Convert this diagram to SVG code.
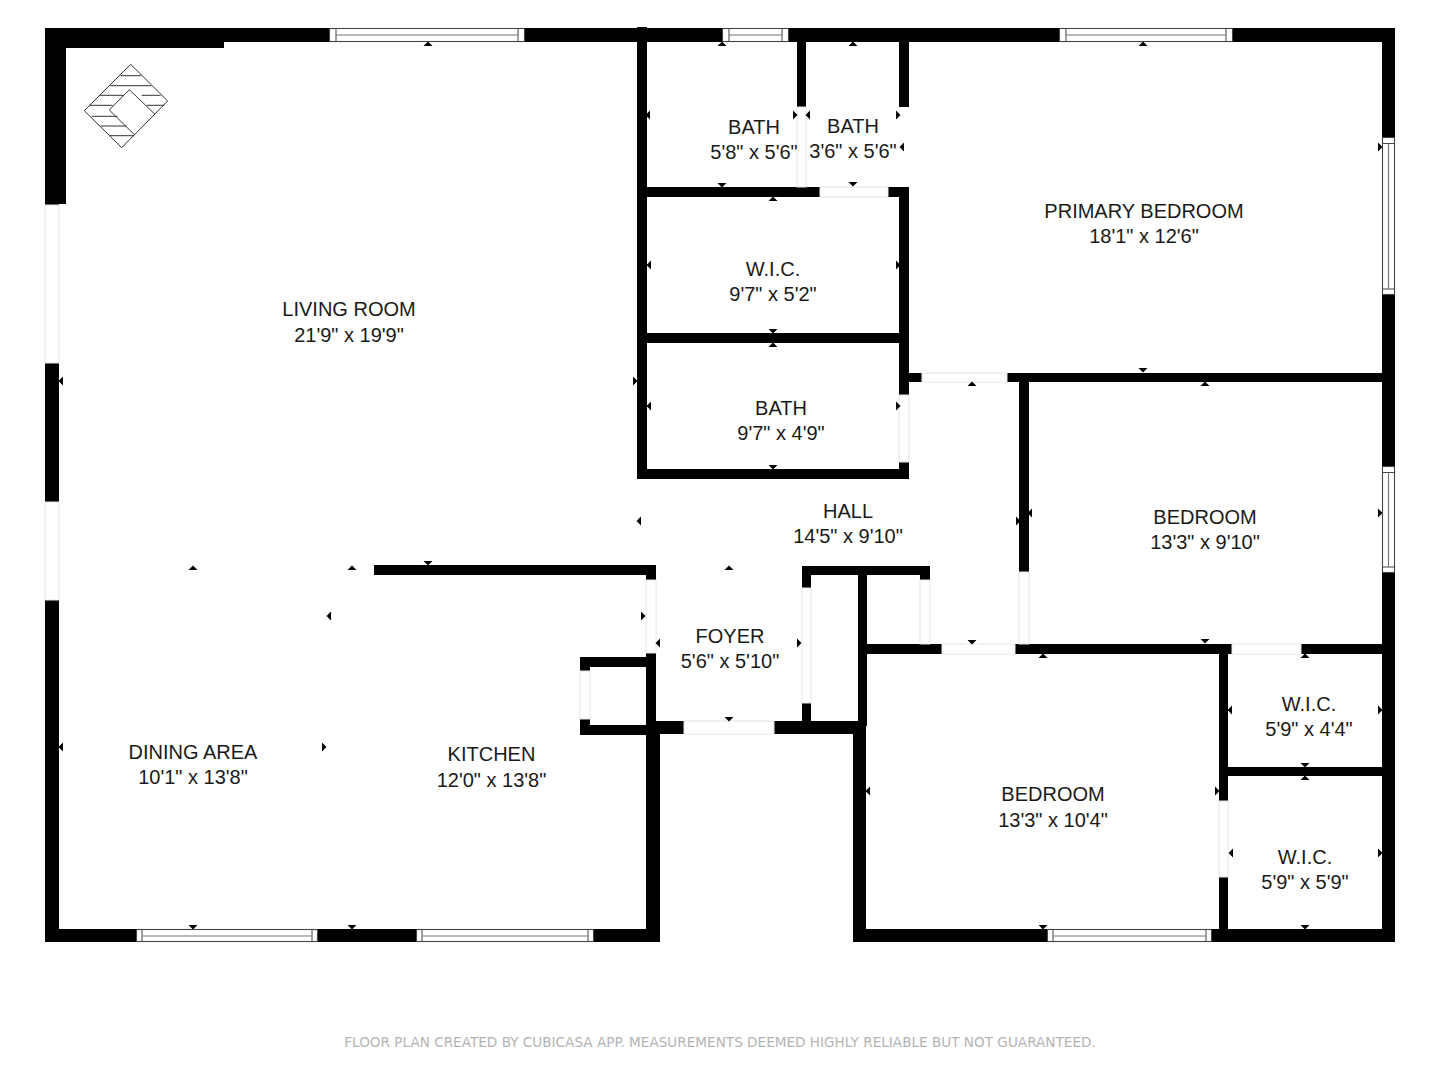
<svg xmlns="http://www.w3.org/2000/svg" width="1440" height="1080" viewBox="0 0 1440 1080">
<style>
.w{fill:#000}
.d{fill:#fff;stroke:#e6e6e6;stroke-width:1}
.f{fill:#fff;stroke:#444;stroke-width:1.1}
.m{stroke:#777;stroke-width:1.2;fill:none}
.fp{fill:none;stroke:#333;stroke-width:1}
.fl{stroke:#444;stroke-width:1;fill:none}
text{font-family:"Liberation Sans",Arial,sans-serif;font-size:20px;fill:#1a1a1a;text-anchor:middle}
.note{font-family:"DejaVu Sans",Verdana,sans-serif;font-size:13.6px;fill:#b4b4b4}
</style>
<defs>
<path id="u" d="M-4.5 2L0 -2.5L4.5 2Z" fill="#000"/>
<path id="n" d="M-4.5 -2L0 2.5L4.5 -2Z" fill="#000"/>
<path id="l" d="M2 -4.5L-2.5 0L2 4.5Z" fill="#000"/>
<path id="r" d="M-2 -4.5L2.5 0L-2 4.5Z" fill="#000"/>
</defs>
<rect width="1440" height="1080" fill="#fff"/>
<g id="walls">
<rect class="w" x="45" y="28" width="284" height="14"/>
<rect class="w" x="45" y="28" width="179" height="20"/>
<rect class="w" x="45" y="28" width="21" height="176"/>
<rect class="w" x="45" y="28" width="14" height="177"/>
<rect class="w" x="45" y="363" width="14" height="139"/>
<rect class="w" x="45" y="600" width="14" height="342"/>
<rect class="w" x="45" y="929" width="91" height="13"/>
<rect class="w" x="318" y="929" width="98" height="13"/>
<rect class="w" x="594" y="929" width="66" height="13"/>
<rect class="w" x="525" y="28" width="197" height="14"/>
<rect class="w" x="789" y="28" width="270" height="14"/>
<rect class="w" x="1233" y="28" width="162" height="14"/>
<rect class="w" x="1382" y="28" width="13" height="109"/>
<rect class="w" x="1382" y="295" width="13" height="171"/>
<rect class="w" x="1382" y="573" width="13" height="369"/>
<rect class="w" x="637" y="27" width="10" height="452"/>
<rect class="w" x="637" y="469" width="272" height="10"/>
<rect class="w" x="899" y="462" width="10" height="17"/>
<rect class="w" x="899" y="372" width="10" height="23"/>
<rect class="w" x="899" y="187" width="10" height="185"/>
<rect class="w" x="899" y="42" width="10" height="65"/>
<rect class="w" x="797" y="42" width="9" height="65"/>
<rect class="w" x="647" y="187" width="173" height="10"/>
<rect class="w" x="888" y="187" width="21" height="10"/>
<rect class="w" x="647" y="333" width="252" height="10"/>
<rect class="w" x="909" y="373" width="13" height="9"/>
<rect class="w" x="1007" y="373" width="375" height="9"/>
<rect class="w" x="1019" y="373" width="10" height="199"/>
<rect class="w" x="858" y="644" width="84" height="10"/>
<rect class="w" x="1015" y="644" width="217" height="10"/>
<rect class="w" x="1301" y="644" width="81" height="10"/>
<rect class="w" x="1219" y="644" width="9" height="157"/>
<rect class="w" x="1219" y="877" width="9" height="52"/>
<rect class="w" x="1228" y="767" width="154" height="9"/>
<rect class="w" x="853" y="929" width="194" height="13"/>
<rect class="w" x="1212" y="929" width="183" height="13"/>
<rect class="w" x="853" y="734" width="13" height="208"/>
<rect class="w" x="858" y="566" width="9" height="160"/>
<rect class="w" x="802" y="566" width="128" height="9"/>
<rect class="w" x="802" y="566" width="9" height="22"/>
<rect class="w" x="802" y="703" width="9" height="20"/>
<rect class="w" x="920" y="566" width="10" height="14"/>
<rect class="w" x="774" y="721" width="92" height="13"/>
<rect class="w" x="374" y="565" width="282" height="10"/>
<rect class="w" x="646" y="565" width="10" height="15"/>
<rect class="w" x="646" y="653" width="10" height="82"/>
<rect class="w" x="646" y="734" width="14" height="208"/>
<rect class="w" x="656" y="721" width="28" height="13"/>
<rect class="w" x="580" y="657" width="66" height="10"/>
<rect class="w" x="580" y="657" width="10" height="14"/>
<rect class="w" x="580" y="719" width="10" height="16"/>
<rect class="w" x="580" y="725" width="66" height="10"/>
</g>
<g id="doors">
<rect class="d" x="45" y="205" width="14" height="158"/>
<rect class="d" x="45" y="502" width="14" height="98"/>
<rect class="d" x="797" y="107" width="9" height="80"/>
<rect class="d" x="820" y="187" width="68" height="10"/>
<rect class="d" x="899" y="395" width="10" height="67"/>
<rect class="d" x="922" y="373" width="85" height="9"/>
<rect class="d" x="1019" y="572" width="10" height="72"/>
<rect class="d" x="942" y="644" width="73" height="10"/>
<rect class="d" x="1232" y="644" width="69" height="10"/>
<rect class="d" x="1219" y="801" width="9" height="76"/>
<rect class="d" x="646" y="580" width="10" height="73"/>
<rect class="d" x="802" y="588" width="9" height="115"/>
<rect class="d" x="920" y="580" width="10" height="64"/>
<rect class="d" x="684" y="721" width="90" height="13"/>
<rect class="d" x="580" y="671" width="10" height="48"/>
</g>
<g id="windows">
<g><rect class="f" x="329.500" y="28.500" width="195" height="13"/><path class="fl" d="M336 28.500V41.500M518 28.500V41.500"/><path class="m" d="M336 35H518"/></g>
<g><rect class="f" x="722.500" y="28.500" width="66" height="13"/><path class="fl" d="M729 28.500V41.500M782 28.500V41.500"/><path class="m" d="M729 35H782"/></g>
<g><rect class="f" x="1059.500" y="28.500" width="173" height="13"/><path class="fl" d="M1066 28.500V41.500M1226 28.500V41.500"/><path class="m" d="M1066 35H1226"/></g>
<g><rect class="f" x="1382.500" y="137.500" width="12" height="157"/><path class="fl" d="M1382.500 143.500H1394.500M1382.500 289H1394.500"/><path class="m" d="M1388.500 143.500V289"/></g>
<g><rect class="f" x="1382.500" y="466.500" width="12" height="106"/><path class="fl" d="M1382.500 472.500H1394.500M1382.500 567H1394.500"/><path class="m" d="M1388.500 472.500V567"/></g>
<g><rect class="f" x="136.500" y="929.500" width="181" height="12"/><path class="fl" d="M142 929.500V941.500M312 929.500V941.500"/><path class="m" d="M142 936H312"/></g>
<g><rect class="f" x="416.500" y="929.500" width="177" height="12"/><path class="fl" d="M422 929.500V941.500M588 929.500V941.500"/><path class="m" d="M422 936H588"/></g>
<g><rect class="f" x="1047.500" y="929.500" width="164" height="12"/><path class="fl" d="M1053 929.500V941.500M1206 929.500V941.500"/><path class="m" d="M1053 936H1206"/></g>
</g>
<g id="fireplace">
<path class="fp" d="M130.700 64.300L167.700 101L121.700 147.700L84.300 110.700Z"/>
<path class="fp" d="M155 114.300L129.300 89.700L109.300 110L134.700 135"/>
<path class="fp" d="M120.700 75.700H141M110.300 85.700H151M100 95.300H123.300M141.700 95.300H160.700M89.300 105.300H112.700M146.700 105.300H164.300M91.700 116.300H117.300M100.700 126H126.700M110 135.700H134"/>
</g>
<g id="marks">
<use href="#u" x="428" y="44"/><use href="#u" x="722" y="44"/><use href="#u" x="853" y="44"/><use href="#u" x="1143" y="44"/>
<use href="#l" x="648" y="115"/><use href="#r" x="795" y="115"/><use href="#l" x="808" y="115"/><use href="#r" x="898" y="115"/><use href="#l" x="902" y="147"/><use href="#n" x="722" y="185"/><use href="#u" x="773" y="199"/><use href="#n" x="853" y="184"/>
<use href="#l" x="649" y="265"/><use href="#r" x="898" y="265"/><use href="#n" x="773" y="331"/><use href="#u" x="773" y="345"/>
<use href="#l" x="649" y="406"/><use href="#r" x="898" y="406"/><use href="#n" x="773" y="467"/>
<use href="#u" x="972" y="384"/><use href="#l" x="639" y="521"/><use href="#r" x="1018" y="521"/><use href="#u" x="729" y="568"/><use href="#n" x="972" y="642"/>
<use href="#l" x="61" y="381"/><use href="#r" x="635" y="381"/><use href="#n" x="428" y="563"/>
<use href="#r" x="1380" y="147"/><use href="#n" x="1143" y="370"/>
<use href="#u" x="1205" y="384"/><use href="#l" x="1030" y="513"/><use href="#r" x="1380" y="513"/><use href="#n" x="1205" y="641"/>
<use href="#u" x="1305" y="656"/><use href="#l" x="1230" y="710"/><use href="#r" x="1380" y="710"/><use href="#n" x="1305" y="765"/><use href="#u" x="1305" y="778"/>
<use href="#l" x="1231" y="853"/><use href="#r" x="1380" y="853"/><use href="#n" x="1305" y="927"/>
<use href="#u" x="1043" y="656"/><use href="#l" x="868" y="791"/><use href="#r" x="1217" y="791"/><use href="#n" x="1043" y="927"/>
<use href="#l" x="658" y="643"/><use href="#r" x="799" y="643"/><use href="#n" x="729" y="719"/>
<use href="#r" x="643" y="616"/><use href="#n" x="352" y="927"/><use href="#n" x="193" y="927"/><use href="#u" x="193" y="568"/><use href="#u" x="352" y="568"/><use href="#l" x="329" y="616"/><use href="#r" x="324" y="747"/><use href="#l" x="61" y="747"/>
</g>
<g id="labels">
<g id="living-room"><text x="349" y="316">LIVING ROOM</text><text x="349" y="342">21'9" x 19'9"</text></g>
<g id="bath-1"><text x="754" y="134">BATH</text><text x="754" y="159">5'8" x 5'6"</text></g>
<g id="bath-2"><text x="853" y="133">BATH</text><text x="853" y="158">3'6" x 5'6"</text></g>
<g id="primary-bedroom"><text x="1144" y="218">PRIMARY BEDROOM</text><text x="1144" y="243">18'1" x 12'6"</text></g>
<g id="wic-1"><text x="773" y="276">W.I.C.</text><text x="773" y="301">9'7" x 5'2"</text></g>
<g id="bath-3"><text x="781" y="415">BATH</text><text x="781" y="440">9'7" x 4'9"</text></g>
<g id="hall"><text x="848" y="518">HALL</text><text x="848" y="543">14'5" x 9'10"</text></g>
<g id="bedroom-1"><text x="1205" y="524">BEDROOM</text><text x="1205" y="549">13'3" x 9'10"</text></g>
<g id="foyer"><text x="730" y="643">FOYER</text><text x="730" y="668">5'6" x 5'10"</text></g>
<g id="dining-area"><text x="193" y="759">DINING AREA</text><text x="193" y="784">10'1" x 13'8"</text></g>
<g id="kitchen"><text x="491.500" y="761">KITCHEN</text><text x="491.500" y="787">12'0" x 13'8"</text></g>
<g id="bedroom-2"><text x="1053" y="801">BEDROOM</text><text x="1053" y="827">13'3" x 10'4"</text></g>
<g id="wic-2"><text x="1309" y="711">W.I.C.</text><text x="1309" y="736">5'9" x 4'4"</text></g>
<g id="wic-3"><text x="1305" y="864">W.I.C.</text><text x="1305" y="889">5'9" x 5'9"</text></g>
<text class="note" x="720" y="1047">FLOOR PLAN CREATED BY CUBICASA APP. MEASUREMENTS DEEMED HIGHLY RELIABLE BUT NOT GUARANTEED.</text>
</g>
</svg>
